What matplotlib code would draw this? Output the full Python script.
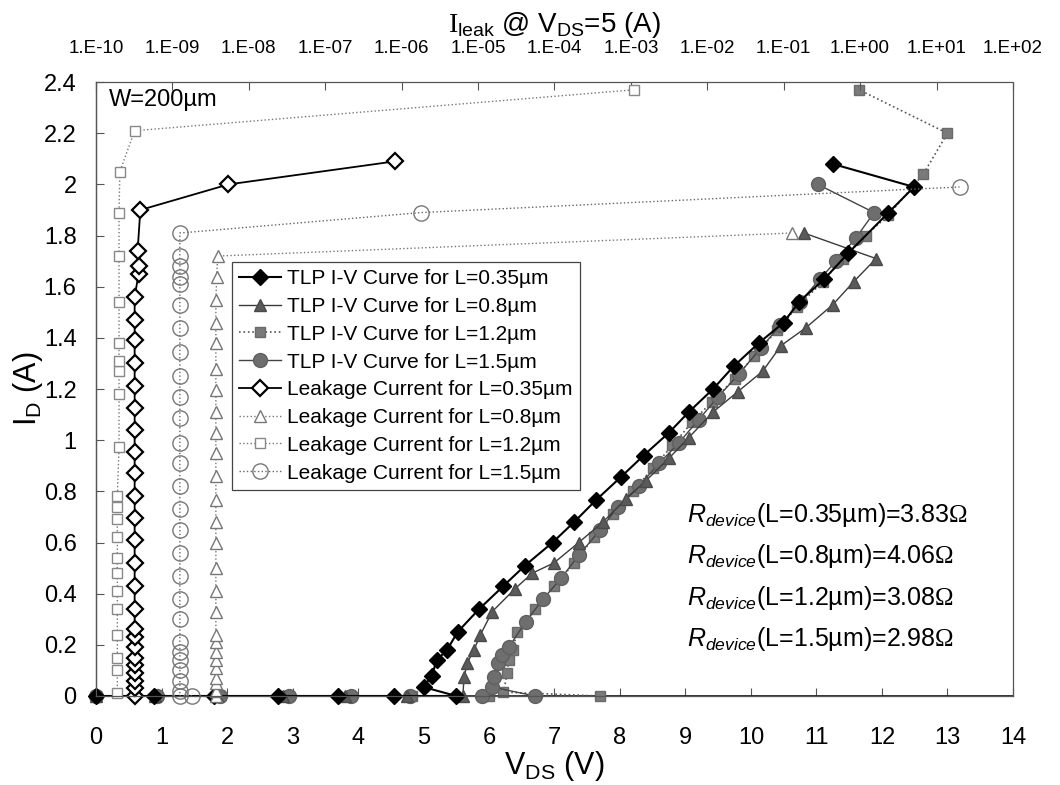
import numpy as np
import matplotlib
matplotlib.use("Agg")
import matplotlib.pyplot as plt
from matplotlib.ticker import FuncFormatter, FixedLocator, NullLocator

plt.rcParams['font.family'] = ['Liberation Sans', 'DejaVu Sans']
plt.rcParams['mathtext.fontset'] = 'custom'
plt.rcParams['mathtext.rm'] = 'Liberation Serif'
plt.rcParams['mathtext.sf'] = 'Liberation Sans'
plt.rcParams['mathtext.it'] = 'Liberation Sans:italic'

# TLP I-V curves (bottom axis, V_DS in V ; I_D in A)
tlp035_v = [0, 0.88, 1.8, 2.78, 3.7, 4.55, 5.5, 5.0, 5.13, 5.2, 5.36, 5.52, 5.85, 6.22, 6.55,
            6.97, 7.3, 7.63, 8.01, 8.36, 8.75, 9.05, 9.42, 9.74, 10.12, 10.5, 10.73, 11.12,
            11.48, 12.1, 12.49, 11.25]
tlp035_i = [0, 0, 0, 0, 0, 0, 0, 0.035, 0.08, 0.14, 0.18, 0.25, 0.34, 0.43, 0.51,
            0.60, 0.68, 0.765, 0.855, 0.94, 1.03, 1.11, 1.20, 1.29, 1.38, 1.46, 1.54, 1.63,
            1.73, 1.89, 1.99, 2.08]

tlp08_v = [0, 0.9, 1.85, 2.85, 3.8, 4.75, 5.6, 5.62, 5.67, 5.77, 5.87, 6.05, 6.4, 6.66, 6.99,
           7.37, 7.74, 8.09, 8.39, 8.75, 9.05, 9.42, 9.8, 10.18, 10.46, 10.84, 11.25, 11.57,
           11.91, 10.81]
tlp08_i = [0, 0, 0, 0, 0, 0, 0, 0.075, 0.13, 0.18, 0.24, 0.33, 0.42, 0.48, 0.52,
           0.60, 0.68, 0.77, 0.84, 0.93, 1.01, 1.11, 1.19, 1.27, 1.37, 1.44, 1.53, 1.62,
           1.71, 1.81]

tlp12_v = [0, 0.92, 1.9, 2.92, 3.88, 4.82, 6.0, 7.7, 6.22, 6.28, 6.3, 6.36, 6.43, 6.71, 7.0,
           7.3, 7.6, 7.9, 8.2, 8.5, 8.8, 9.1, 9.4, 9.75, 10.05, 10.4, 10.7, 11.1, 11.4, 11.75,
           12.1, 12.63, 13.0, 11.65]
tlp12_i = [0, 0, 0, 0, 0, 0, 0, 0, 0.015, 0.09, 0.14, 0.18, 0.25, 0.34, 0.43,
           0.52, 0.62, 0.71, 0.80, 0.89, 0.98, 1.07, 1.15, 1.24, 1.33, 1.43, 1.52, 1.62, 1.71, 1.80,
           1.88, 2.04, 2.20, 2.37]

tlp15_v = [0, 0.93, 1.9, 2.95, 3.9, 4.8, 5.9, 6.7, 6.05, 6.07, 6.13, 6.2, 6.3, 6.56, 6.83,
           7.1, 7.37, 7.7, 7.97, 8.29, 8.6, 8.9, 9.2, 9.5, 9.82, 10.15, 10.45, 10.75, 11.05,
           11.3, 11.6, 11.88, 11.02]
tlp15_i = [0, 0, 0, 0, 0, 0, 0, 0, 0.035, 0.075, 0.13, 0.16, 0.19, 0.29, 0.38,
           0.46, 0.55, 0.65, 0.74, 0.82, 0.91, 0.99, 1.08, 1.17, 1.26, 1.36, 1.45, 1.54, 1.63,
           1.70, 1.79, 1.89, 2.00]

# leakage current (top axis, Ileak @ VDS=5 in A ; I_D in A)
leak035_id = [0.0, 0.03, 0.06, 0.09, 0.12, 0.15, 0.19, 0.23, 0.26, 0.34, 0.43, 0.52, 0.61, 0.695,
              0.78, 0.87, 0.955, 1.04, 1.125, 1.21, 1.30, 1.39, 1.47, 1.56, 1.65, 1.68, 1.74,
              1.90, 2.00, 2.09]
leak035_i = [3.2e-10, 3.2e-10, 3.2e-10, 3.2e-10, 3.2e-10, 3.2e-10, 3.2e-10, 3.2e-10, 3.2e-10,
             3.2e-10, 3.2e-10, 3.2e-10, 3.2e-10, 3.2e-10, 3.2e-10, 3.2e-10, 3.2e-10, 3.2e-10,
             3.2e-10, 3.2e-10, 3.2e-10, 3.2e-10, 3.2e-10, 3.2e-10, 3.6e-10, 3.6e-10, 3.5e-10,
             3.8e-10, 5.4e-9, 8.1e-7]

leak08_id = [0.0, 0.02, 0.05, 0.07, 0.11, 0.14, 0.17, 0.21, 0.24, 0.33, 0.41, 0.50, 0.60, 0.68,
             0.765, 0.86, 0.95, 1.03, 1.11, 1.195, 1.28, 1.38, 1.46, 1.55, 1.64, 1.72, 1.81]
leak08_i = [3.7e-9, 3.7e-9, 3.7e-9, 3.7e-9, 3.7e-9, 3.7e-9, 3.7e-9, 3.7e-9, 3.7e-9, 3.7e-9,
            3.7e-9, 3.7e-9, 3.7e-9, 3.7e-9, 3.7e-9, 3.7e-9, 3.7e-9, 3.7e-9, 3.7e-9, 3.7e-9,
            3.7e-9, 3.7e-9, 3.7e-9, 3.7e-9, 3.8e-9, 3.9e-9, 0.13]

leak12_id = [0.01, 0.10, 0.15, 0.24, 0.34, 0.41, 0.48, 0.54, 0.62, 0.69, 0.74, 0.78, 0.975, 1.18,
             1.27, 1.31, 1.38, 1.54, 1.72, 1.89, 2.05, 2.21, 2.37]
leak12_i = [1.9e-10, 1.9e-10, 1.9e-10, 1.9e-10, 1.9e-10, 1.9e-10, 1.9e-10, 1.9e-10, 1.9e-10,
            1.9e-10, 1.9e-10, 1.9e-10, 2e-10, 2e-10, 2e-10, 2e-10, 2e-10, 2e-10, 2e-10, 2e-10,
            2.05e-10, 3.2e-10, 1.1e-3]

leak15_id = [0.0, 0.0, 0.02, 0.06, 0.10, 0.14, 0.17, 0.21, 0.30, 0.38, 0.47, 0.56, 0.65, 0.73,
             0.82, 0.91, 0.99, 1.085, 1.17, 1.25, 1.345, 1.44, 1.53, 1.61, 1.64, 1.68, 1.72,
             1.81, 1.89, 1.99]
leak15_i = [1.8e-9, 1.25e-9, 1.25e-9, 1.25e-9, 1.25e-9, 1.25e-9, 1.25e-9, 1.25e-9, 1.25e-9,
            1.25e-9, 1.25e-9, 1.25e-9, 1.25e-9, 1.25e-9, 1.25e-9, 1.25e-9, 1.25e-9, 1.25e-9,
            1.25e-9, 1.25e-9, 1.25e-9, 1.25e-9, 1.25e-9, 1.25e-9, 1.25e-9, 1.25e-9, 1.25e-9,
            1.25e-9, 1.8e-6, 20.0]

r_labels = ['0.35', '0.8', '1.2', '1.5']
r_values = ['3.83', '4.06', '3.08', '2.98']

fig = plt.figure(figsize=(10.6, 7.85), dpi=100)
ax = fig.add_axes([0.0906, 0.1134, 0.865, 0.782])
ax2 = ax.twiny()

h1, = ax.plot(tlp035_v, tlp035_i, '-', color='black', lw=1.5, marker='D', ms=8.5,
              mfc='black', mec='black', clip_on=False, zorder=6)
h2, = ax.plot(tlp08_v, tlp08_i, '-', color='#3a3a3a', lw=1.0, marker='^', ms=9,
              mfc='#5a5a5a', mec='#4a4a4a', clip_on=False, zorder=5)
h3, = ax.plot(tlp12_v, tlp12_i, ':', color='#555555', lw=1.2, marker='s', ms=7.5,
              mfc='#7a7a7a', mec='#6a6a6a', clip_on=False, zorder=4)
h4, = ax.plot(tlp15_v, tlp15_i, '-', color='#444444', lw=1.0, marker='o', ms=10,
              mfc='#6e6e6e', mec='#606060', clip_on=False, zorder=4)

h5, = ax2.plot(leak035_i, leak035_id, '-', color='black', lw=1.3, marker='D', ms=8,
               mfc='white', mec='black', mew=1.6, clip_on=False)
h6, = ax2.plot(leak08_i, leak08_id, ':', color='#777777', lw=1.0, marker='^', ms=8,
               mfc='white', mec='#777777', mew=1.0, clip_on=False)
h7, = ax2.plot(leak12_i, leak12_id, ':', color='#777777', lw=1.0, marker='s', ms=7,
               mfc='white', mec='#888888', mew=1.0, clip_on=False)
h8, = ax2.plot(leak15_i, leak15_id, ':', color='#666666', lw=1.0, marker='o', ms=11,
               mfc='none', mec='#777777', mew=1.0, clip_on=False)

ax.set_xlim(0, 14)
ax.set_ylim(0, 2.4)
ax.set_xticks(np.arange(0, 15, 1))
ax.set_yticks(np.arange(0, 2.41, 0.2))
ax.yaxis.set_major_formatter(FuncFormatter(lambda v, p: '{:g}'.format(round(v, 1))))
ax.tick_params(axis='both', direction='in', labelsize=17, length=6, width=0.8, color='#555555')
ax.tick_params(axis='x', pad=22)
ax.tick_params(axis='y', pad=14)
ax.set_xlabel(r'V$_{\mathsf{DS}}$ (V)', fontsize=22, labelpad=0)
ax.set_ylabel(r'I$_{\mathsf{D}}$ (A)', fontsize=22, labelpad=-1)

ax2.set_xscale('log')
ax2.set_xlim(1e-10, 1e2)
ax2.xaxis.set_major_locator(FixedLocator([10.0 ** k for k in range(-10, 3)]))
ax2.xaxis.set_minor_locator(NullLocator())
ax2.xaxis.set_major_formatter(FuncFormatter(lambda v, p: '1.E{:+03d}'.format(int(round(np.log10(v))))))
ax2.tick_params(axis='x', direction='in', labelsize=13.5, length=6, width=0.8, color='#555555', pad=18)
ax2.set_xlabel(r'$\mathrm{I}_{\mathsf{leak}}$ @ V$_{\mathsf{DS}}$=5 (A)', fontsize=20, labelpad=6)

for a in (ax, ax2):
    for s in a.spines.values():
        s.set_color('#555555')
        s.set_linewidth(0.9)
ax.spines['bottom'].set_color('#222222')
ax.spines['bottom'].set_linewidth(1.3)
ax2.spines['top'].set_linestyle((0, (1, 1)))
ax2.spines['right'].set_linestyle((0, (1, 1)))
ax.spines['top'].set_visible(False)
ax.spines['right'].set_visible(False)

ax.text(0.2, 2.33, 'W=200µm', fontsize=17, va='center', ha='left')
for k in range(4):
    ax.text(9.02, 0.707 - 0.161 * k,
            r'$\mathit{R}_{\mathit{device}}$(L=' + r_labels[k] + r'µm)=' + r_values[k] + r'$\mathrm{\Omega}$',
            fontsize=18, va='center', ha='left')

labels = ['TLP I-V Curve for L=0.35µm', 'TLP I-V Curve for L=0.8µm',
          'TLP I-V Curve for L=1.2µm', 'TLP I-V Curve for L=1.5µm',
          'Leakage Current for L=0.35µm', 'Leakage Current for L=0.8µm',
          'Leakage Current for L=1.2µm', 'Leakage Current for L=1.5µm']
leg = ax2.legend([h1, h2, h3, h4, h5, h6, h7, h8], labels, loc='upper left',
                 bbox_to_anchor=(0.148, 0.707), bbox_transform=ax.transAxes,
                 fancybox=False, edgecolor='#444444', framealpha=1, fontsize=15,
                 handlelength=2.0, borderpad=0.35, labelspacing=0.42, handletextpad=0.3,
                 borderaxespad=0)
leg.get_frame().set_linewidth(0.9)

plt.savefig('out.png', dpi=100)
